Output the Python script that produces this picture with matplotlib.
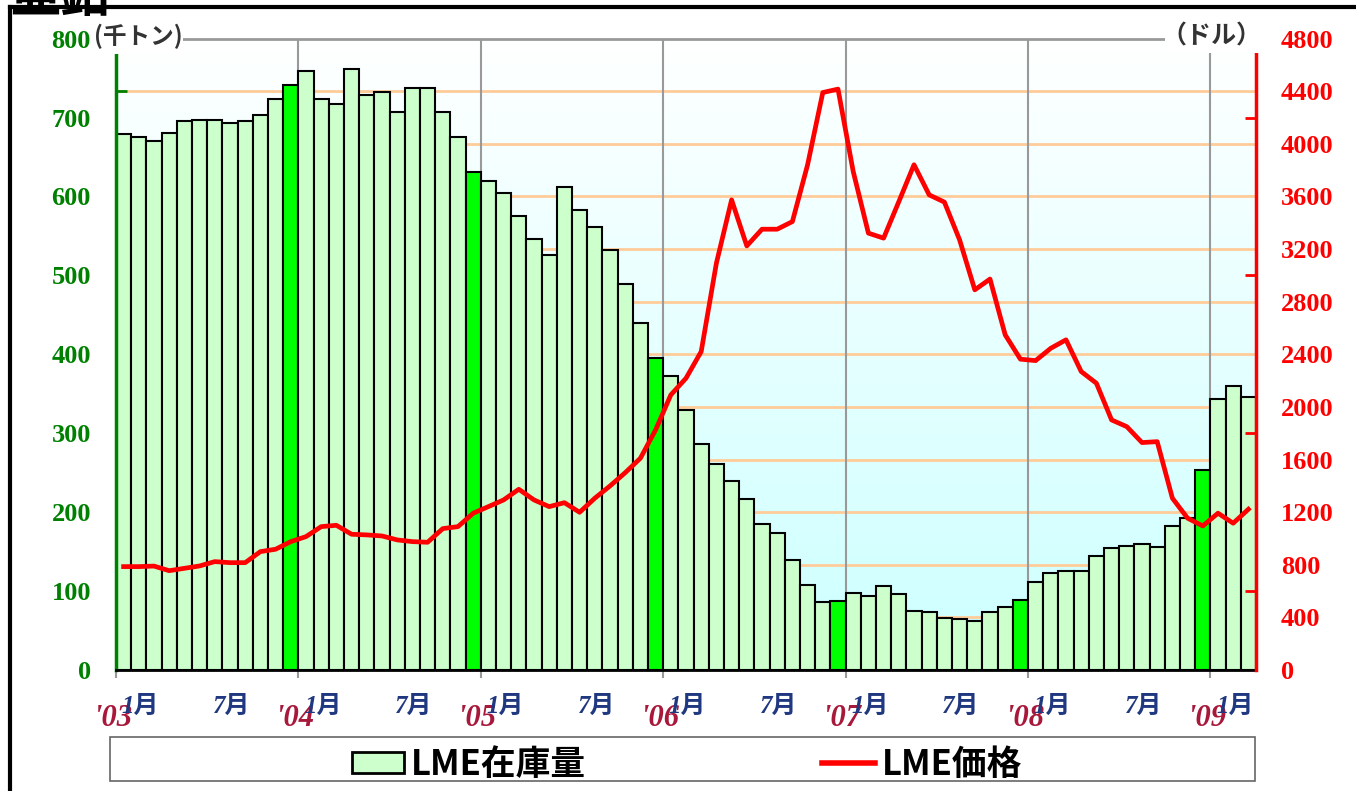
import numpy as np
import matplotlib.pyplot as plt
from matplotlib.colors import LinearSegmentedColormap
from matplotlib.patches import Rectangle, Patch
from matplotlib.lines import Line2D

# monthly data, Jan 2003 - Mar 2009
stock = [679, 675, 670, 680, 695, 697, 697, 693, 696, 703, 724, 741,
         759, 723, 717, 761, 729, 732, 707, 738, 738, 707, 675, 631,
         619, 605, 575, 546, 526, 612, 583, 561, 532, 489, 440, 395,
         373, 330, 286, 261, 239, 217, 185, 173, 140, 108, 86, 88,
         98, 94, 106, 96, 75, 73, 66, 64, 62, 73, 80, 89,
         111, 123, 125, 126, 144, 154, 157, 160, 156, 183, 193, 253,
         343, 360, 346]
price = [786, 786, 790, 755, 773, 791, 824, 816, 816, 900, 918, 976,
         1014, 1090, 1100, 1032, 1027, 1019, 989, 976, 971, 1075, 1090, 1192,
         1242, 1293, 1374, 1293, 1242, 1272, 1199, 1306, 1399, 1500, 1610, 1825,
         2091, 2218, 2421, 3093, 3574, 3224, 3351, 3351, 3409, 3841, 4390, 4416,
         3790, 3321, 3283, 3560, 3841, 3612, 3557, 3270, 2890, 2972, 2548, 2363,
         2352, 2446, 2510, 2269, 2180, 1901, 1850, 1729, 1736, 1306, 1154, 1095,
         1192, 1116, 1222]
years = ["'03", "'04", "'05", "'06", "'07", "'08", "'09"]
month_labels = ["1月", "7月"]

W, H = 1356, 791


def fx(px):
    return px / W


def fy(py):
    return 1 - py / H


CJK = "Noto Sans CJK JP"
SERIF = ["Liberation Serif", CJK]

fig = plt.figure(figsize=(W / 100, H / 100), dpi=100)
ax = fig.add_axes([fx(116), fy(670), fx(1256) - fx(116), fy(38.6) - fy(670)])

n = len(stock)
x = np.arange(n)
jan = np.arange(0, n, 12) - 0.5

# background gradient
cmap = LinearSegmentedColormap.from_list("bg", ["#CCFFFF", "#FFFFFF"])
ax.imshow(np.linspace(0, 1, 256).reshape(-1, 1), cmap=cmap, origin="lower",
          extent=[0, 1, 0, 1], transform=ax.transAxes, aspect="auto", zorder=0)

for k in range(1, 12):
    ax.axhline(k * 800 / 12, color="#FFCC99", lw=2, zorder=1)
for t in jan[1:]:
    ax.axvline(t, color="#999999", lw=1.5, zorder=1)

colors = ["#00FF00" if i % 12 == 11 else "#CCFFCC" for i in range(n)]
ax.bar(x, stock, width=1.0, color=colors, edgecolor="black", lw=1.5, zorder=2)

ax.set_xlim(-0.5, n - 0.5)
ax.set_ylim(0, 800)

ax2 = ax.twinx()
ax2.plot(x, price, color="#FF0000", lw=3.4, zorder=3)
ax2.set_ylim(0, 4800)
ax2.set_xlim(-0.5, n - 0.5)

# spines
ax.spines["top"].set_color("#999999")
ax.spines["top"].set_linewidth(2)
ax.spines["bottom"].set_color("black")
ax.spines["bottom"].set_linewidth(2)
ax.spines["left"].set_color("#008000")
ax.spines["left"].set_linewidth(2.5)
ax.spines["right"].set_visible(False)
for s in ["top", "bottom", "left"]:
    ax2.spines[s].set_visible(False)
ax2.spines["right"].set_color("#FF0000")
ax2.spines["right"].set_linewidth(2.5)

# left axis
ax.set_yticks(range(0, 801, 100))
ax.set_yticks(np.arange(0, 801, 800 / 12), minor=True)
ax.tick_params(axis="y", which="major", length=0, pad=18, labelsize=19,
               labelcolor="#008000")
ax.tick_params(axis="y", which="minor", direction="in", length=8, width=2,
               color="#008000")
for lbl in ax.get_yticklabels():
    lbl.set_fontfamily("Liberation Serif")
    lbl.set_fontweight("bold")

# right axis
ax2.set_yticks(range(0, 4801, 400))
ax2.set_yticks(range(0, 4801, 600), minor=True)
ax2.tick_params(axis="y", which="major", length=0, pad=18, labelsize=19,
                labelcolor="#FF0000")
ax2.tick_params(axis="y", which="minor", direction="in", length=8, width=2,
                color="#FF0000")
for lbl in ax2.get_yticklabels():
    lbl.set_fontfamily("Liberation Serif")
    lbl.set_fontweight("bold")

# x axis
ax.set_xticks(jan)
ax.set_xticklabels([])
ax.tick_params(axis="x", length=6, width=1.5, color="#999999")
trans = ax.get_xaxis_transform()
for i, t in enumerate(jan):
    ax.text(t - 0.2, -0.077, years[i], transform=trans, ha="center", va="center",
            fontsize=22, fontweight="bold", style="italic", color="#A8183A",
            family=SERIF)
    ax.text(t + 1.6, -0.058, month_labels[0], transform=trans, ha="center",
            va="center", fontsize=18, fontweight="bold", style="italic",
            color="#203880", family=SERIF)
    if t + 6 < n - 0.5:
        ax.text(t + 7.6, -0.058, month_labels[1], transform=trans, ha="center",
                va="center", fontsize=18, fontweight="bold", style="italic",
                color="#203880", family=SERIF)

# unit labels over white boxes
fig.add_artist(Rectangle((fx(93), fy(54)), fx(183) - fx(93), fy(20) - fy(54),
                         transform=fig.transFigure, fc="white", ec="none", zorder=5))
fig.add_artist(Rectangle((fx(1165), fy(53)), fx(1263) - fx(1165), fy(20) - fy(53),
                         transform=fig.transFigure, fc="white", ec="none", zorder=5))
fig.text(fx(138), fy(36), "(千トン)", ha="center", va="center", fontsize=17,
         fontweight="bold", color="#333333", family=CJK, zorder=6)
fig.text(fx(1211), fy(36), "（ドル）", ha="center", va="center", fontsize=18,
         fontweight="bold", color="#333333", family=CJK, zorder=6)

# legend
fig.add_artist(Rectangle((fx(110), fy(781)), fx(1255) - fx(110), fy(737) - fy(781),
                         transform=fig.transFigure, fc="white", ec="#666666",
                         lw=1.2, zorder=4))
handles = [Patch(fc="#CCFFCC", ec="black", lw=2),
           Line2D([], [], color="#FF0000", lw=4)]
leg = fig.legend(handles, ["LME在庫量", "LME価格"], loc="center",
                 bbox_to_anchor=(fx(687), fy(764)), ncol=2, frameon=False,
                 prop={"family": CJK, "size": 25, "weight": "bold"},
                 handlelength=1.5, handleheight=0.55, handletextpad=0.2,
                 columnspacing=6.8, borderpad=0)
leg.set_zorder(7)

# outer frame and clipped title
fig.add_artist(Line2D([fx(10), fx(10)], [fy(7), fy(791)], transform=fig.transFigure,
                      color="black", lw=3, zorder=8))
fig.add_artist(Line2D([fx(10), fx(1356)], [fy(7), fy(7)], transform=fig.transFigure,
                      color="black", lw=3, zorder=8))
fig.text(fx(10), fy(12), "亜鉛", ha="left", va="baseline", fontsize=36,
         fontweight="bold", color="black", family=CJK, zorder=9)

fig.savefig("out.png", dpi=100)
